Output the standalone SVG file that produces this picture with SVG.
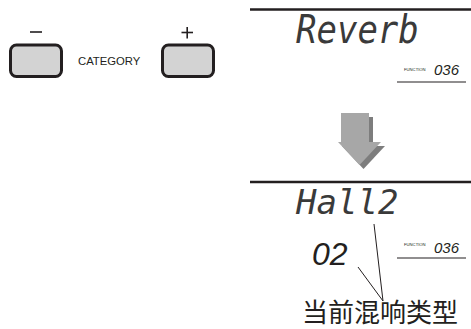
<svg xmlns="http://www.w3.org/2000/svg" width="471" height="329" viewBox="0 0 471 329">
<style>
.btn{fill:#d3d3d3;stroke:#231f20;stroke-width:3}
.sign{stroke:#231f20;stroke-width:1.6;fill:none}
.lbl{font-family:"Liberation Sans",Arial,sans-serif;fill:#231f20}
.lcd{font-family:"DejaVu Sans Mono",monospace;font-style:oblique;fill:#3a3a3a}
.seg{font-family:"Liberation Sans",Arial,sans-serif;font-style:italic;fill:#231f20}
.fn{font-family:"Liberation Sans",Arial,sans-serif;font-size:4.2px;fill:#231f20}
.bar{stroke:#231f20;stroke-width:2.5}
.ul{stroke:#231f20;stroke-width:1.2}
.lead{stroke:#231f20;stroke-width:1;fill:none}
</style>
<rect width="471" height="329" fill="#fff"/>
<g id="btn-minus">
<line class="sign" x1="30" y1="32" x2="42" y2="32"/>
<rect class="btn" x="10.5" y="45" width="51" height="31.5" rx="6"/>
</g>
<text id="category" class="lbl" x="78" y="65" font-size="11.3">CATEGORY</text>
<g id="btn-plus">
<line class="sign" x1="181.5" y1="32.5" x2="193" y2="32.5"/>
<line class="sign" x1="187.2" y1="27" x2="187.2" y2="38.5"/>
<rect class="btn" x="162.5" y="45" width="51" height="31.5" rx="6"/>
</g>
<g id="display-top">
<line class="bar" x1="250" y1="9.5" x2="471" y2="9.5"/>
<text class="lcd" transform="translate(296,42.5) scale(1,1.15)" font-size="34">Reverb</text>
<text class="fn" x="404" y="71">FUNCTION</text>
<text class="seg" x="434" y="75" font-size="15">036</text>
<line class="ul" x1="397" y1="82" x2="466" y2="82"/>
</g>
<g id="arrow">
<rect x="345" y="117" width="28" height="29" fill="#7d7d7d"/>
<polygon points="342,146 385,146 363.5,169" fill="#7d7d7d"/>
<rect x="341" y="113" width="28" height="30" fill="#a7a7a7"/>
<polygon points="338,142 381,142 359.5,165" fill="#a7a7a7"/>
</g>
<g id="display-bottom">
<line class="bar" x1="250" y1="182" x2="471" y2="182"/>
<text class="lcd" x="296" y="214" font-size="34">Hall2</text>
<text class="seg" x="312" y="265" font-size="32">02</text>
<text class="fn" x="404" y="246">FUNCTION</text>
<text class="seg" x="434" y="253" font-size="15">036</text>
<line class="ul" x1="397" y1="258" x2="466" y2="258"/>
</g>
<g id="connectors">
<line class="lead" x1="374" y1="224" x2="383" y2="301"/>
<line class="lead" x1="358" y1="267" x2="383" y2="301"/>
</g>
<g id="label">
<text x="302" y="322" font-size="26" font-family="'Noto Sans CJK SC',sans-serif" fill="#231f20">当前混响类型</text>
</g>
</svg>
